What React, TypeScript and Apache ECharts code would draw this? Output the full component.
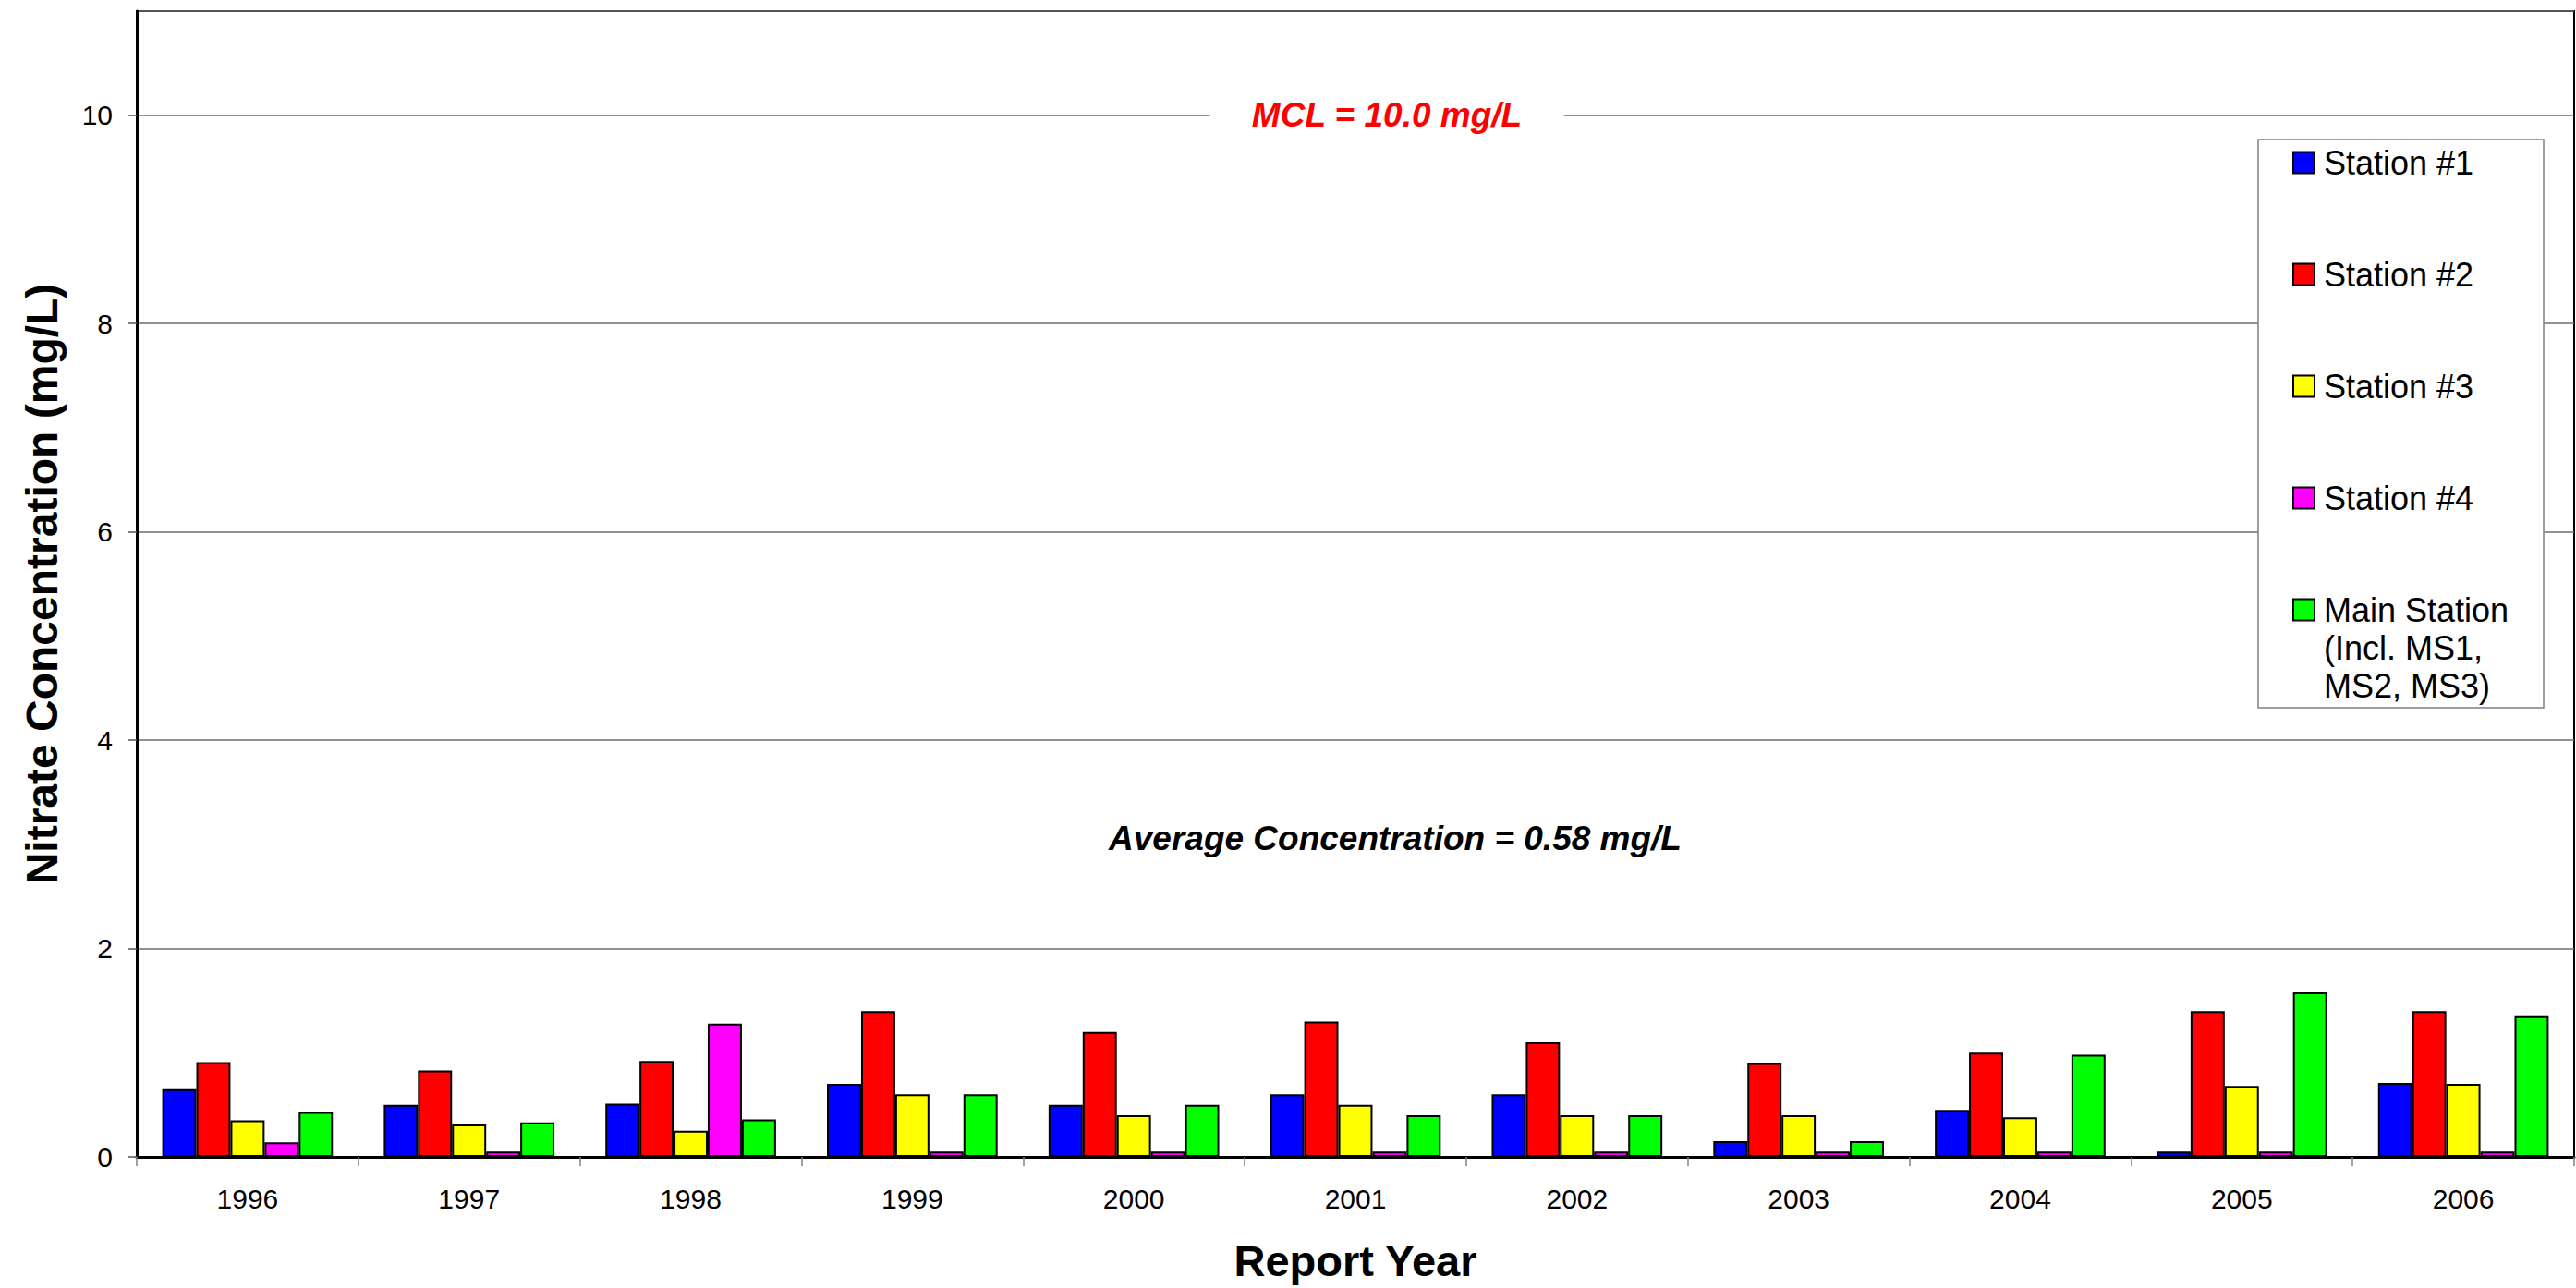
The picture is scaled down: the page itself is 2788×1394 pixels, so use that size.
import React, { useEffect, useRef } from "react";
import * as echarts from "echarts";

// ---------- data ----------
const years = ["1996", "1997", "1998", "1999", "2000", "2001", "2002", "2003", "2004", "2005", "2006"];
const station1 = [0.65, 0.5, 0.51, 0.7, 0.5, 0.6, 0.6, 0.15, 0.45, 0.05, 0.71];
const station2 = [0.91, 0.83, 0.92, 1.4, 1.2, 1.3, 1.1, 0.9, 1.0, 1.4, 1.4];
const station3 = [0.35, 0.31, 0.25, 0.6, 0.4, 0.5, 0.4, 0.4, 0.38, 0.68, 0.7];
const station4 = [0.14, 0.05, 1.28, 0.05, 0.05, 0.05, 0.05, 0.05, 0.05, 0.05, 0.05];
const mainStation = [0.43, 0.33, 0.36, 0.6, 0.5, 0.4, 0.4, 0.15, 0.98, 1.58, 1.35];
const seriesNames = ["Station #1", "Station #2", "Station #3", "Station #4", "Main Station\n(Incl. MS1,\nMS2, MS3)"];
const seriesColors = ["#0000FF", "#FF0000", "#FFFF00", "#FF00FF", "#00FF00"];
const yAxisMin = 0;
const yAxisMax = 11;
const yAxisStep = 2;
const MCL = 10.0;
const AVERAGE = 0.58;

// ---------- layout ----------
const W = 2788;
const H = 1394;
const FONT = "'Liberation Sans', Arial, Helvetica, sans-serif";
const GRID = { left: 148, right: 2, top: 12, bottom: 142 };
const AVG_TEXT_LEVEL = 3.06; // vertical position of the average note, in axis units
const LEGEND = { x: 2444, y: 151, w: 309, h: 615, firstY: 176, step: 121, markerX: 2482, markerSize: 23, textX: 2515 };

export default function App() {
  const ref = useRef<HTMLDivElement>(null);

  useEffect(() => {
    if (!ref.current) return;
    const chart = echarts.init(ref.current, null, { renderer: "svg" });
    const seriesData = [station1, station2, station3, station4, mainStation];

    chart.setOption({
      animation: false,
      backgroundColor: "#ffffff",
      textStyle: { fontFamily: FONT },
      grid: {
        left: GRID.left,
        right: GRID.right,
        top: GRID.top,
        bottom: GRID.bottom,
        show: true,
        borderColor: "#000",
        borderWidth: 2,
        backgroundColor: "transparent",
      },
      xAxis: {
        type: "category",
        data: years,
        name: "Report Year",
        nameLocation: "middle",
        nameGap: 89,
        nameTextStyle: { fontFamily: FONT, fontSize: 47, fontWeight: "bold", color: "#000" },
        axisLine: { show: true, lineStyle: { color: "#000", width: 3 } },
        axisTick: { show: true, length: 10, lineStyle: { color: "#808080", width: 1.5 } },
        axisLabel: { fontFamily: FONT, fontSize: 30, color: "#000", margin: 30 },
        splitLine: { show: false },
      },
      yAxis: {
        type: "value",
        min: yAxisMin,
        max: yAxisMax,
        interval: yAxisStep,
        name: "Nitrate Concentration (mg/L)",
        nameLocation: "middle",
        nameGap: 79,
        nameTextStyle: { fontFamily: FONT, fontSize: 48, fontWeight: "bold", color: "#000" },
        axisLine: { show: true, lineStyle: { color: "#000", width: 3 } },
        axisTick: { show: true, length: 10, lineStyle: { color: "#555", width: 1.5 } },
        axisLabel: { fontFamily: FONT, fontSize: 30, color: "#000", margin: 26, showMaxLabel: false },
        splitLine: { show: true, lineStyle: { color: "#6e6e6e", width: 1.5 } },
      },
      series: seriesData.map((d, i) => ({
        name: seriesNames[i],
        type: "bar",
        data: d,
        barGap: "0%",
        barCategoryGap: "23%",
        itemStyle: { color: seriesColors[i], borderColor: "#000", borderWidth: 2 },
      })),
    });

    const mclY = chart.convertToPixel({ yAxisIndex: 0 }, MCL) as number;
    const avgY = chart.convertToPixel({ yAxisIndex: 0 }, AVG_TEXT_LEVEL) as number;
    const plotCenterX = GRID.left + (W - GRID.left - GRID.right) / 2;

    const legendChildren: any[] = [
      {
        type: "rect",
        shape: { x: LEGEND.x, y: LEGEND.y, width: LEGEND.w, height: LEGEND.h },
        style: { fill: "#fff", stroke: "#808080", lineWidth: 1.5 },
      },
    ];
    seriesNames.forEach((name, i) => {
      const cy = LEGEND.firstY + i * LEGEND.step;
      legendChildren.push({
        type: "rect",
        shape: { x: LEGEND.markerX, y: cy - LEGEND.markerSize / 2, width: LEGEND.markerSize, height: LEGEND.markerSize },
        style: { fill: seriesColors[i], stroke: "#000", lineWidth: 2 },
      });
      legendChildren.push({
        type: "text",
        x: LEGEND.textX,
        y: cy - 20.5,
        style: {
          text: name,
          fill: "#000",
          font: `36px ${FONT}`,
          lineHeight: 41,
          align: "left",
          verticalAlign: "top",
        },
      });
    });

    chart.setOption({
      graphic: [
        {
          type: "text",
          z: 100,
          x: plotCenterX + 34,
          y: mclY,
          style: {
            text: `MCL = ${MCL.toFixed(1)} mg/L`,
            fill: "#FF0000",
            font: `italic bold 37px ${FONT}`,
            align: "center",
            verticalAlign: "middle",
            backgroundColor: "#fff",
            padding: [6, 45],
          },
        },
        {
          type: "text",
          z: 100,
          x: plotCenterX + 43,
          y: avgY,
          style: {
            text: `Average Concentration = ${AVERAGE.toFixed(2)} mg/L`,
            fill: "#000",
            font: `italic bold 37px ${FONT}`,
            align: "center",
            verticalAlign: "middle",
          },
        },
        { type: "group", z: 100, children: legendChildren },
      ],
    });

    return () => chart.dispose();
  }, []);

  return (
    <div
      ref={ref}
      style={{ position: "absolute", left: 0, top: 0, width: W, height: H, background: "#fff" }}
    />
  );
}
